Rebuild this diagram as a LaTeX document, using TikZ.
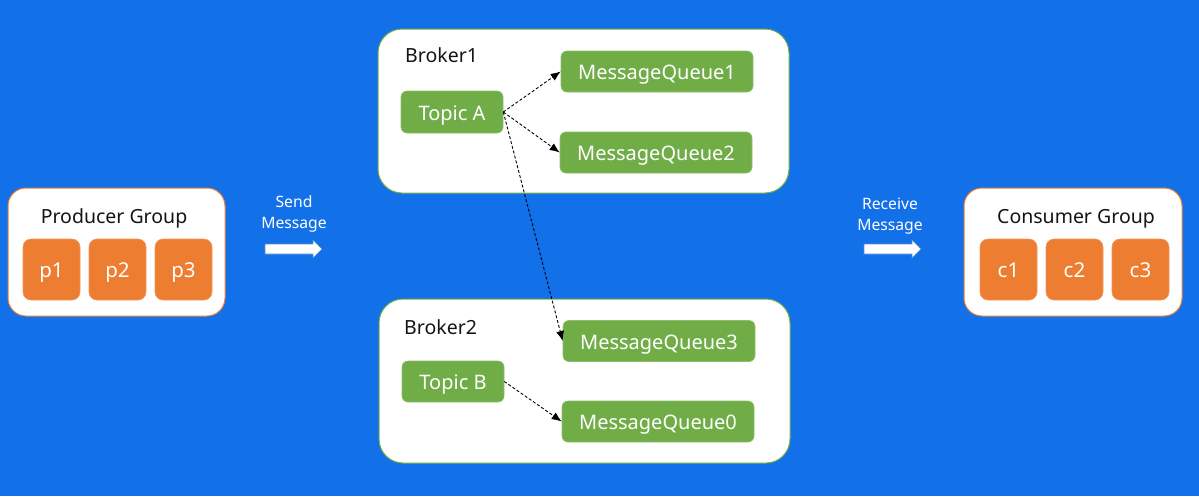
\documentclass[tikz,border=0pt]{standalone}
\usepackage{fontspec}
\setmainfont{Noto Sans}
\usetikzlibrary{arrows.meta}
\definecolor{bg}{RGB}{18,112,232}
\definecolor{orng}{RGB}{237,125,49}
\definecolor{grn}{RGB}{112,173,71}
\definecolor{arrowline}{RGB}{90,140,210}
\definecolor{txt}{RGB}{20,20,20}
\tikzset{
  groupbox/.style={draw=orng, line width=1pt, fill=white, rounded corners=18pt, minimum width=217pt, minimum height=128pt, inner sep=0pt},
  brokerbox/.style={draw=grn, line width=1pt, fill=white, rounded corners=24pt, minimum width=411pt, minimum height=164pt, inner sep=0pt},
  obox/.style={fill=orng, draw=orng!80!white, line width=0.6pt, rounded corners=8pt, minimum width=57pt, minimum height=61pt, inner sep=0pt, text=white, text height=16pt, text depth=0pt, font=\fontsize{20.5}{22}\selectfont},
  gbox/.style={fill=grn, draw=grn!80!white, line width=0.6pt, rounded corners=6pt, minimum height=41pt, inner sep=0pt, text=white, text height=16pt, text depth=0pt, font=\fontsize{20}{22}\selectfont},
  title/.style={text=txt, inner sep=0pt, text height=14pt, text depth=0pt, font=\fontsize{19.5}{22}\selectfont},
  lbl/.style={text=white, inner sep=0pt, align=center, font=\fontsize{15.7}{21}\selectfont},
  dashlink/.style={draw=black, line width=0.9pt, dash pattern=on 3pt off 2pt, -{Latex[length=10pt,width=8pt]}},
  blockarrow/.style={fill=white, draw=arrowline, line width=0.6pt}
}
\begin{document}
\begin{tikzpicture}[x=1pt,y=-1pt]
\fill[bg] (0,0) rectangle (1199,496);
\useasboundingbox (0,0) rectangle (1199,496);

% Producer group
\node[groupbox] (pg) at (116.5,252) {};
\node[title] (pgt) at (114,216) {Producer Group};
\node[obox] (p1) at (51.5,269.5) {p1};
\node[obox] (p2) at (117.5,269.5) {p2};
\node[obox] (p3) at (183.5,269.5) {p3};

% Send message
\node[lbl] (send) at (294,214) {Send\\Message};
\draw[blockarrow] (265,244) -- (313,244) -- (313,240) -- (322,249) -- (313,258) -- (313,254) -- (265,254) -- cycle;

% Broker1
\node[brokerbox] (b1) at (583.5,111) {};
\node[title, anchor=west] (b1t) at (405,55) {Broker1};
\node[gbox, minimum width=102pt, minimum height=42pt] (ta) at (452,112) {Topic A};
\node[gbox, minimum width=192pt] (mq1) at (657,71.5) {MessageQueue1};
\node[gbox, minimum width=192pt] (mq2) at (656,152.5) {MessageQueue2};

% Broker2
\node[brokerbox] (b2) at (584.5,381) {};
\node[title, anchor=west] (b2t) at (404,327) {Broker2};
\node[gbox, minimum width=102pt] (tb) at (453,381.5) {Topic B};
\node[gbox, minimum width=192pt] (mq3) at (659,341) {MessageQueue3};
\node[gbox, minimum width=192pt] (mq0) at (658,421.5) {MessageQueue0};

\draw[dashlink] (ta.east) -- (mq1.west);
\draw[dashlink] (ta.east) -- (mq2.west);
\draw[dashlink] (ta.east) -- (mq3.west);
\draw[dashlink] (tb.east) -- (mq0.west);

% Receive message
\node[lbl] (recv) at (890,216) {Receive\\Message};
\draw[blockarrow] (864,244) -- (912,244) -- (912,240) -- (921,249) -- (912,258) -- (912,254) -- (864,254) -- cycle;

% Consumer group
\node[groupbox, minimum width=218pt] (cg) at (1073,252) {};
\node[title] (cgt) at (1076,216) {Consumer Group};
\node[obox] (c1) at (1008.5,269.5) {c1};
\node[obox] (c2) at (1074.5,269.5) {c2};
\node[obox] (c3) at (1140.5,269.5) {c3};
\end{tikzpicture}
\end{document}
